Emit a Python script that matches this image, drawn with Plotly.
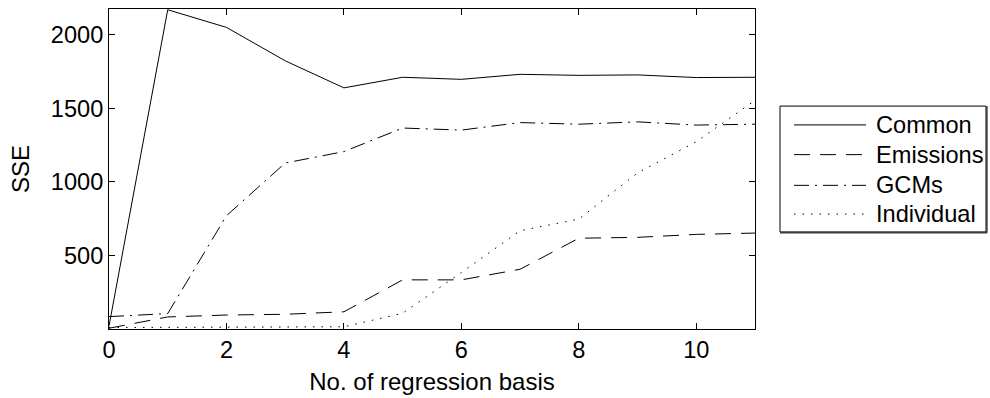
import plotly.graph_objects as go

x_basis = list(range(0, 12))
common = [20, 2170, 2050, 1823, 1639, 1711, 1697, 1731, 1724, 1727, 1709, 1711]
emissions = [5, 82, 95, 100, 117, 334, 334, 406, 617, 623, 643, 652]
gcms = [84, 105, 770, 1128, 1206, 1366, 1352, 1403, 1392, 1408, 1386, 1392]
individual = [10, 10, 10, 10, 15, 107, 384, 668, 747, 1061, 1273, 1554]

series_names = ["Common", "Emissions", "GCMs", "Individual"]
series_values = [common, emissions, gcms, individual]
dashes = ["solid", "16px,10px", "15px,6px,2px,6px", "1.5px,7px"]

x_ticks = [0, 2, 4, 6, 8, 10]
y_ticks = [500, 1000, 1500, 2000]

FONT = "Liberation Sans, Arial, Helvetica, sans-serif"
FS = 23.6

W, H = 990, 398
ML, MT = 109, 8
PW, PH = 646, 323
MR = W - ML - PW
MB = H - MT - PH


def px_x(p):
    return (p - ML) / PW


def px_y(p):
    return (MT + PH - p) / PH


fig = go.Figure()
for name, vals, dash in zip(series_names, series_values, dashes):
    fig.add_trace(go.Scatter(
        x=x_basis, y=vals, mode="lines", name=name,
        line=dict(color="black", width=1, dash=dash),
        showlegend=False,
    ))

axis_common = dict(
    showline=True, linecolor="black", linewidth=1, mirror="ticks",
    ticks="inside", ticklen=6, tickcolor="black", tickwidth=1,
    showgrid=False, zeroline=False,
    tickfont=dict(family=FONT, size=FS, color="black"),
)

# manual legend (MATLAB style)
shapes = []
annotations = []
box_l, box_r, box_t, box_b = 780, 986, 106, 233
shapes.append(dict(type="rect", xref="paper", yref="paper",
                   x0=px_x(box_l), x1=px_x(box_r), y0=px_y(box_b), y1=px_y(box_t),
                   line=dict(color="black", width=1), fillcolor="white", layer="above"))
shapes.append(dict(type="line", xref="paper", yref="paper",
                   x0=px_x(box_l), x1=px_x(box_r + 1), y0=px_y(box_b + 1), y1=px_y(box_b + 1),
                   line=dict(color="black", width=1), layer="above"))
shapes.append(dict(type="line", xref="paper", yref="paper",
                   x0=px_x(box_r + 1), x1=px_x(box_r + 1), y0=px_y(box_t), y1=px_y(box_b + 1),
                   line=dict(color="black", width=1), layer="above"))
item_y = [125, 155, 186, 215]
for name, dash, yy in zip(series_names, dashes, item_y):
    shapes.append(dict(type="line", xref="paper", yref="paper",
                       x0=px_x(794), x1=px_x(866), y0=px_y(yy), y1=px_y(yy),
                       line=dict(color="black", width=1, dash=dash), layer="above"))
    annotations.append(dict(xref="paper", yref="paper", x=px_x(874), y=px_y(yy),
                            xanchor="left", yanchor="middle", text=name, showarrow=False,
                            font=dict(family=FONT, size=FS, color="black")))

fig.update_layout(
    width=W, height=H,
    margin=dict(l=ML, r=MR, t=MT, b=MB),
    paper_bgcolor="white", plot_bgcolor="white",
    font=dict(family=FONT, size=FS, color="black"),
    xaxis=dict(range=[0, 11], tickvals=x_ticks, ticklabelstandoff=0,
               title=dict(text="No. of regression basis", standoff=10,
                          font=dict(family=FONT, size=24, color="black")),
               **axis_common),
    yaxis=dict(range=[0, 2175], tickvals=y_ticks,
               title=dict(text="SSE", standoff=14,
                          font=dict(family=FONT, size=24, color="black")),
               **axis_common),
    shapes=shapes,
    annotations=annotations,
    showlegend=False,
)

fig.write_html(
    "out.html",
    config={"displayModeBar": False},
    post_script="document.body.style.margin='0';document.body.style.overflow='hidden';",
)
